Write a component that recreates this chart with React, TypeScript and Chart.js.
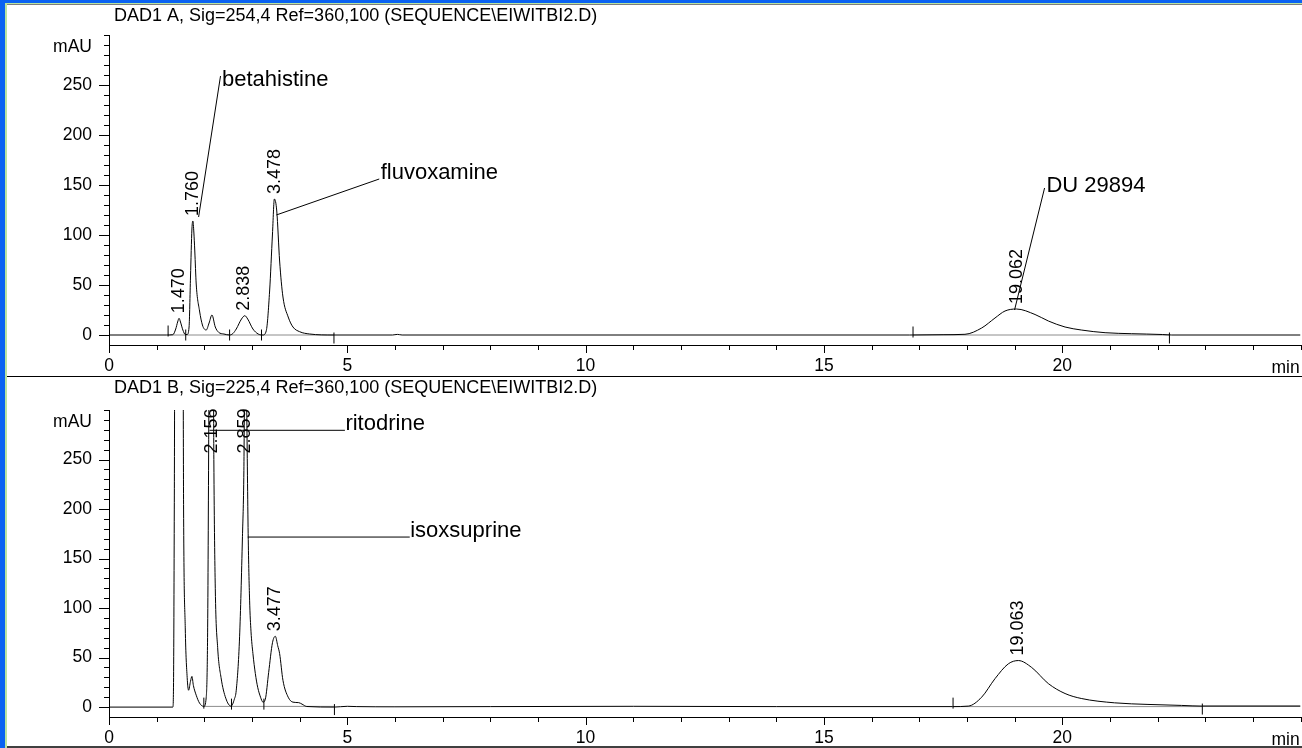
import React, { useEffect, useRef } from "react";
import { Chart, registerables } from "chart.js";

Chart.register(...registerables);

const FONT = '"Liberation Sans", Arial, Helvetica, sans-serif';

// ---- axes ----
const X_MIN = 0;
const X_MAX = 25;
const Y_MIN = -10;
const Y_MAX = 300;
const xTickValues = Array.from({ length: 26 }, (_, i) => i);
const xMajorValues = [0, 5, 10, 15, 20];
const yTickValues = Array.from({ length: 31 }, (_, i) => i * 10);
const yLabelValues = [0, 50, 100, 150, 200, 250];
const Y_UNIT_AT = 288;
const Y_UNIT_LABEL = "mAU";
const X_UNIT_LABEL = "min";
const X_UNIT_AT = 24.39;

// ---- signal A (254 nm) ----
const titleA = "DAD1 A, Sig=254,4 Ref=360,100 (SEQUENCE\\EIWITBI2.D)";
const timeA = [0, 1.2, 1.34, 1.4, 1.44, 1.47, 1.5, 1.55, 1.6, 1.64, 1.68, 1.71, 1.74, 1.76, 1.78, 1.8, 1.83, 1.9, 1.96, 2.0, 2.04, 2.1, 2.16, 2.23, 2.3, 2.41, 2.53, 2.6, 2.67, 2.78, 2.85, 2.91, 3.02, 3.13, 3.23, 3.3, 3.37, 3.43, 3.47, 3.52, 3.58, 3.65, 3.76, 3.86, 4.0, 4.21, 4.7, 5.95, 6.05, 6.15, 16.8, 17.5, 17.96, 18.31, 18.59, 18.8, 19.04, 19.43, 19.71, 20.06, 20.4, 20.9, 21.45, 22.1, 22.3, 25];
const signalA = [0, 0, 0.3, 6, 13, 16.7, 13, 5, 0.5, 0.5, 8, 58, 106, 114, 103, 84, 51, 24, 10, 6, 5, 12, 20, 8, 2.7, 1, 0, 1.5, 6, 16, 19.3, 16, 6, 1, 0, 4.3, 44, 101, 136, 124, 74, 38, 18, 8, 3.3, 1, 0, 0, 0.6, 0, 0, 0.3, 0.7, 7, 17, 24, 26, 20.5, 14, 8, 5, 2.3, 1.3, 0.5, 0, 0];
const peakTimesA = [1.47, 1.76, 2.838, 3.478, 19.062];
const peakHeightsA = [16.7, 114, 19.3, 136, 26];
const peakLabelsA = ["1.470", "1.760", "2.838", "3.478", "19.062"];
const markerTimesA = [1.24, 1.61, 2.53, 3.2, 4.72, 16.87, 22.25];
const markerLevelsA = [4, 0, 0, 0, -3, 3, -3];
const baseStartA = [1.24, 16.87];
const baseEndA = [4.72, 22.25];
const baseLevelA = [0, 0];
const namesA = ["betahistine", "fluvoxamine", "DU 29894"];
const nameTimeA = [2.37, 5.7, 19.67];
const nameLevelA = [249, 156, 143];
const leaderFromTimeA = [2.34, 5.67, 19.63];
const leaderFromLevelA = [259, 156, 147];
const leaderToTimeA = [1.88, 3.51, 19.0];
const leaderToLevelA = [118, 120, 25];

// ---- signal B (225 nm) ----
const titleB = "DAD1 B, Sig=225,4 Ref=360,100 (SEQUENCE\\EIWITBI2.D)";
const timeB = [0, 1.34, 1.355, 1.37, 1.385, 1.55, 1.565, 1.6, 1.64, 1.67, 1.71, 1.74, 1.77, 1.83, 1.9, 1.99, 2.04, 2.07, 2.095, 2.11, 2.18, 2.2, 2.23, 2.28, 2.35, 2.45, 2.56, 2.63, 2.67, 2.74, 2.8, 2.83, 2.86, 2.89, 2.92, 2.95, 2.98, 3.02, 3.07, 3.12, 3.18, 3.23, 3.28, 3.35, 3.43, 3.49, 3.54, 3.58, 3.65, 3.76, 3.86, 3.98, 4.05, 4.15, 4.72, 5.0, 5.2, 6.0, 8.0, 11.0, 14.0, 17.7, 18.03, 18.31, 18.59, 18.87, 19.08, 19.36, 19.71, 20.06, 20.4, 21.1, 21.8, 22.5, 22.95, 25];
const signalB = [0, 0, 30, 200, 420, 420, 200, 80, 30, 17, 26, 31, 22, 12, 4, 0.7, 10, 80, 300, 450, 450, 250, 120, 60, 30, 9, 1, 8, 17, 71, 172, 239, 420, 300, 175, 108, 76, 54, 34, 20, 10, 5, 8, 35, 65, 71.5, 62, 54, 27, 10, 5, 4.5, 3, 0.6, 0, 0.8, 0.5, 0.3, 0.5, 0.8, 0.5, 0.5, 1, 10, 28.7, 43.7, 47, 40, 23.7, 13.7, 8.7, 4.3, 2.7, 1.7, 1, 1];
const peakTimesB = [2.156, 2.859, 3.477, 19.063];
const peakHeightsB = [450, 420, 71.5, 47];
const peakLabelsB = ["2.156", "2.859", "3.477", "19.063"];
const markerTimesB = [1.99, 2.57, 3.25, 4.73, 17.71, 22.94];
const markerLevelsB = [4, 3, 3, -2.5, 4, -2];
const baseStartB = [1.99, 17.71, 22.94];
const baseEndB = [4.73, 22.94, 25];
const baseLevelB = [0.7, 0.5, 1];
const namesB = ["ritodrine", "isoxsuprine"];
const nameTimeB = [4.96, 6.32];
const nameLevelB = [279.5, 171.7];
const leaderFromTimeB = [2.11, 2.91];
const leaderFromLevelB = [279.5, 171.7];
const leaderToTimeB = [4.95, 6.31];
const leaderToLevelB = [279.5, 171.7];

type Panel = {
  title: string;
  times: number[];
  signal: number[];
  peakTimes: number[];
  peakHeights: number[];
  peakLabels: string[];
  markerTimes: number[];
  markerLevels: number[];
  baseStart: number[];
  baseEnd: number[];
  baseLevel: number[];
  names: string[];
  nameTime: number[];
  nameLevel: number[];
  lfT: number[];
  lfV: number[];
  ltT: number[];
  ltV: number[];
  padTop: number;
  xHeight: number;
  height: number;
  titleBaseline: number;
};

const panelA: Panel = {
  title: titleA, times: timeA, signal: signalA,
  peakTimes: peakTimesA, peakHeights: peakHeightsA, peakLabels: peakLabelsA,
  markerTimes: markerTimesA, markerLevels: markerLevelsA,
  baseStart: baseStartA, baseEnd: baseEndA, baseLevel: baseLevelA,
  names: namesA, nameTime: nameTimeA, nameLevel: nameLevelA,
  lfT: leaderFromTimeA, lfV: leaderFromLevelA, ltT: leaderToTimeA, ltV: leaderToLevelA,
  padTop: 30, xHeight: 31, height: 371, titleBaseline: 15.7,
};

const panelB: Panel = {
  title: titleB, times: timeB, signal: signalB,
  peakTimes: peakTimesB, peakHeights: peakHeightsB, peakLabels: peakLabelsB,
  markerTimes: markerTimesB, markerLevels: markerLevelsB,
  baseStart: baseStartB, baseEnd: baseEndB, baseLevel: baseLevelB,
  names: namesB, nameTime: nameTimeB, nameLevel: nameLevelB,
  lfT: leaderFromTimeB, lfV: leaderFromLevelB, ltT: leaderToTimeB, ltV: leaderToLevelB,
  padTop: 33, xHeight: 29, height: 369, titleBaseline: 16.3,
};

function annoPlugin(p: Panel) {
  return {
    id: "chromAnno",
    afterDraw(chart: any) {
      const ctx: CanvasRenderingContext2D = chart.ctx;
      const xs = chart.scales.x;
      const ys = chart.scales.y;
      const ca = chart.chartArea;
      ctx.save();
      ctx.strokeStyle = "#000";
      ctx.fillStyle = "#000";
      ctx.lineWidth = 1;
      // tick marks
      ctx.beginPath();
      for (const v of yTickValues) {
        const py = Math.round(ys.getPixelForValue(v)) + 0.5;
        const len = yLabelValues.includes(v) ? 10 : 5;
        ctx.moveTo(ca.left - len, py);
        ctx.lineTo(ca.left, py);
      }
      for (const v of xTickValues) {
        const px = Math.round(xs.getPixelForValue(v)) + 0.5;
        const len = xMajorValues.includes(v) ? 8 : 5;
        ctx.moveTo(px, ca.bottom);
        ctx.lineTo(px, ca.bottom + len);
      }
      ctx.stroke();
      // title and unit
      ctx.font = `18px ${FONT}`;
      ctx.textAlign = "left";
      ctx.textBaseline = "alphabetic";
      ctx.fillText(p.title, ca.left + 5, p.titleBaseline);
      ctx.font = `17.5px ${FONT}`;
      ctx.fillText(X_UNIT_LABEL, xs.getPixelForValue(X_UNIT_AT), ca.bottom + 27.7);
      // retention time labels
      ctx.font = `18px ${FONT}`;
      for (let i = 0; i < p.peakTimes.length; i++) {
        const px = xs.getPixelForValue(p.peakTimes[i]);
        const apex = ys.getPixelForValue(p.peakHeights[i]);
        const w = ctx.measureText(p.peakLabels[i]).width;
        let start = apex - 5;
        if (start - w < ca.top - 1.5) start = ca.top - 1.5 + w;
        ctx.save();
        ctx.translate(px, start);
        ctx.rotate(-Math.PI / 2);
        ctx.textAlign = "left";
        ctx.textBaseline = "middle";
        ctx.fillText(p.peakLabels[i], 0, 0);
        ctx.restore();
      }
      // compound names and leader lines
      ctx.beginPath();
      for (let i = 0; i < p.names.length; i++) {
        ctx.moveTo(xs.getPixelForValue(p.lfT[i]), ys.getPixelForValue(p.lfV[i]));
        ctx.lineTo(xs.getPixelForValue(p.ltT[i]), ys.getPixelForValue(p.ltV[i]));
      }
      ctx.stroke();
      ctx.font = `22px ${FONT}`;
      for (let i = 0; i < p.names.length; i++) {
        ctx.fillText(p.names[i], xs.getPixelForValue(p.nameTime[i]), ys.getPixelForValue(p.nameLevel[i]));
      }
      ctx.restore();
    },
  };
}

function makeConfig(p: Panel): any {
  const trace = p.times.map((t, i) => ({ x: t, y: p.signal[i] }));
  const markers = p.markerTimes.map((t, i) => ({ x: t, y: p.markerLevels[i] }));
  const baselines: any[] = [];
  p.baseStart.forEach((s, i) => {
    baselines.push({ x: s, y: p.baseLevel[i] });
    baselines.push({ x: p.baseEnd[i], y: p.baseLevel[i] });
    baselines.push({ x: p.baseEnd[i], y: null });
  });
  const yTicks = [...yTickValues, Y_UNIT_AT].sort((a, b) => a - b);
  return {
    type: "line",
    data: {
      datasets: [
        { data: baselines, borderColor: "#8c8c8c", borderWidth: 1, pointRadius: 0, spanGaps: false, order: 3 },
        { data: trace, borderColor: "#000", borderWidth: 1, pointRadius: 0, cubicInterpolationMode: "monotone", order: 2 },
        { data: markers, showLine: false, pointStyle: "line", pointRotation: 90, pointRadius: 5.5, pointBorderColor: "#000", pointBorderWidth: 1, order: 1 },
      ],
    },
    options: {
      responsive: false,
      animation: false,
      events: [],
      layout: { padding: { top: p.padTop, right: 3, left: 0, bottom: 0 } },
      plugins: { legend: { display: false }, tooltip: { enabled: false }, title: { display: false } },
      scales: {
        x: {
          type: "linear",
          min: X_MIN,
          max: X_MAX,
          afterBuildTicks: (s: any) => { s.ticks = xTickValues.map((v) => ({ value: v })); },
          afterFit: (s: any) => { s.height = p.xHeight; s.paddingLeft = 0; s.paddingRight = 0; },
          ticks: {
            autoSkip: false, maxRotation: 0, minRotation: 0, padding: 11, color: "#000",
            font: { size: 17.5, family: FONT },
            callback: (v: number) => (xMajorValues.includes(v) ? String(v) : ""),
          },
          grid: { display: false, drawTicks: false },
          border: { display: true, color: "#000", width: 1 },
        },
        y: {
          type: "linear",
          min: Y_MIN,
          max: Y_MAX,
          afterBuildTicks: (s: any) => { s.ticks = yTicks.map((v) => ({ value: v })); },
          afterFit: (s: any) => { s.width = 102; },
          ticks: {
            autoSkip: false, padding: 17, color: "#000",
            font: { size: 17.5, family: FONT },
            callback: (v: number) => (yLabelValues.includes(v) ? String(v) : v === Y_UNIT_AT ? Y_UNIT_LABEL : ""),
          },
          grid: { display: false, drawTicks: false },
          border: { display: true, color: "#000", width: 1 },
        },
      },
    },
    plugins: [annoPlugin(p)],
  };
}

function ChromPanel({ panel, top }: { panel: Panel; top: number }) {
  const ref = useRef<HTMLCanvasElement | null>(null);
  useEffect(() => {
    if (!ref.current) return;
    const chart = new Chart(ref.current, makeConfig(panel));
    return () => chart.destroy();
  }, [panel]);
  return (
    <canvas
      ref={ref}
      width={1300}
      height={panel.height}
      style={{ position: "absolute", left: 7, top, width: 1300, height: panel.height }}
    />
  );
}

export default function App() {
  return (
    <div style={{ position: "fixed", left: 0, top: 0, width: 1302, height: 748, background: "#fff", overflow: "hidden" }}>
      <div style={{ position: "absolute", left: 0, top: 0, width: 1302, height: 3, background: "#0a62f2" }} />
      <div style={{ position: "absolute", left: 0, top: 0, width: 5, height: 748, background: "#0a62f2" }} />
      <div style={{ position: "absolute", left: 5, top: 3, width: 1297, height: 1, background: "#b9e3a0" }} />
      <div style={{ position: "absolute", left: 5, top: 3, width: 2, height: 745, background: "#b9e3a0" }} />
      <div style={{ position: "absolute", left: 7, top: 4, width: 1295, height: 1, background: "#7d7d7d" }} />
      <ChromPanel panel={panelA} top={5} />
      <div style={{ position: "absolute", left: 7, top: 376, width: 1295, height: 1, background: "#000" }} />
      <ChromPanel panel={panelB} top={377} />
      <div style={{ position: "absolute", left: 7, top: 746, width: 1295, height: 2, background: "#404040" }} />
    </div>
  );
}
